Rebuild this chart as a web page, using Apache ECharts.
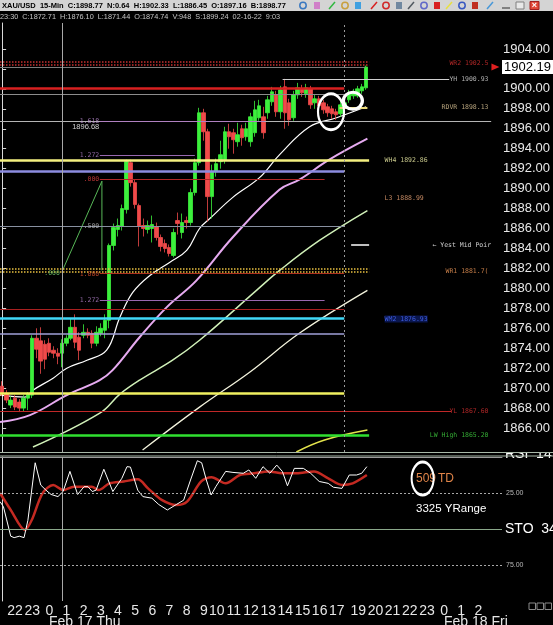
<!DOCTYPE html>
<html><head><meta charset="utf-8">
<script src="https://cdn.jsdelivr.net/npm/echarts@6/dist/echarts.min.js"></script>
<style>html,body{margin:0;padding:0;background:#000;overflow:hidden}#c{width:553px;height:625px}</style>
</head><body><div id="c"></div><script>
// ---------- data ----------
const opens  = [1870.2,1869.5,1868.3,1869.0,1868.6,1868.0,1869.0,1869.3,1875.0,1874.74,1874.4,1874.5,1873.8,1873.5,1873.5,1874.5,1875.0,1876.1,1875.1,1875.3,1875.6,1875.5,1874.5,1875.5,1875.8,1876.8,1884.3,1885.9,1886.2,1887.9,1892.6,1890.6,1888.3,1886.3,1885.9,1886.0,1886.2,1885.1,1884.5,1884.1,1883.3,1886.8,1885.6,1886.8,1886.6,1889.6,1892.6,1897.6,1895.7,1889.2,1891.7,1892.7,1892.9,1895.7,1895.6,1894.7,1896.0,1895.2,1894.7,1895.6,1897.1,1897.2,1897.6,1898.7,1899.4,1897.7,1900.2,1898.6,1897.1,1899.4,1900.0,1899.5,1900.0,1898.6,1899.0,1898.6,1898.2,1898.0,1897.7,1897.5,1898.4,1898.9,1899.3,1899.3,1899.8,1900.1];
const closes = [1869.5,1868.8,1868.8,1868.1,1868.0,1869.0,1869.4,1875.0,1873.9,1872.71,1872.9,1873.6,1873.5,1873.2,1874.5,1875.0,1876.1,1874.6,1873.8,1875.6,1875.3,1874.5,1875.6,1876.0,1876.8,1884.3,1886.1,1886.3,1888.0,1892.7,1890.6,1888.4,1886.2,1886.0,1886.3,1886.4,1885.1,1884.2,1884.0,1883.5,1885.6,1886.5,1886.6,1886.6,1889.6,1892.6,1897.6,1895.7,1889.2,1891.7,1892.5,1893.4,1895.7,1895.2,1894.9,1895.4,1895.1,1896.0,1897.2,1897.9,1898.3,1895.6,1898.9,1899.7,1897.7,1899.9,1897.6,1896.9,1899.4,1900.1,1899.6,1900.1,1898.4,1899.0,1898.3,1897.9,1897.6,1897.5,1897.4,1898.4,1898.6,1899.6,1899.7,1900.0,1900.2,1902.19];
const lows   = [1869.2,1868.5,1868.0,1867.8,1867.6,1867.7,1867.8,1869.0,1873.0,1871.44,1871.9,1873.2,1873.0,1872.4,1872.1,1874.2,1874.8,1874.0,1872.8,1875.0,1875.0,1874.0,1874.2,1875.2,1875.0,1876.0,1883.8,1885.2,1885.8,1887.5,1890.2,1888.0,1884.2,1885.2,1885.5,1884.6,1884.8,1883.7,1883.6,1883.2,1883.1,1885.4,1885.0,1886.0,1886.3,1889.3,1892.3,1894.8,1886.7,1887.0,1891.2,1892.0,1892.5,1894.0,1893.5,1894.2,1894.3,1894.8,1894.2,1895.2,1896.8,1895.0,1897.0,1898.3,1897.2,1897.0,1896.0,1896.3,1896.8,1899.0,1899.2,1899.1,1898.0,1898.0,1897.9,1897.5,1897.2,1897.0,1896.9,1897.2,1898.2,1898.6,1899.0,1899.1,1899.5,1899.9];
const highs  = [1870.7,1869.8,1869.2,1869.3,1868.9,1869.3,1869.6,1875.3,1876.0,1876.10,1874.8,1875.0,1874.2,1874.0,1874.9,1875.3,1877.0,1877.4,1875.6,1876.4,1876.0,1875.8,1876.2,1876.5,1877.4,1884.5,1886.5,1887.0,1888.4,1892.9,1892.9,1890.9,1888.5,1887.0,1886.8,1887.3,1886.6,1885.4,1884.9,1884.4,1886.0,1887.6,1887.5,1887.2,1890.0,1893.0,1898.1,1898.0,1896.0,1892.4,1893.0,1894.8,1896.2,1896.5,1896.0,1896.6,1896.4,1896.6,1897.6,1898.8,1898.9,1898.2,1899.3,1900.2,1899.8,1900.3,1901.0,1899.0,1899.8,1900.6,1900.4,1900.5,1900.3,1899.4,1899.3,1898.9,1898.5,1898.3,1898.0,1898.8,1898.9,1899.9,1900.0,1900.3,1900.5,1902.33];

const slotCount = 117;
const hourIdx    = [3,7,11,15,19,23,27,31,35,39,43,47,50,54,58,62,66,70,74,78,83,87,91,95,99,103,107,111];
const hourLabels = ['22','23','0','1','2','3','4','5','6','7','8','9','10','11','12','13','14','15','16','17','19','20','21','22','23','0','1','2'];
const priceTicks = [1866,1868,1870,1872,1874,1876,1878,1880,1882,1884,1886,1888,1890,1892,1894,1896,1898,1900,1902,1904];
const stoTicks = [25,75];

const ma1 = [[-0.5,1869.3],[5.3,1869.1],[7.2,1869.8],[11.9,1871.0],[15.1,1872.0],[19.8,1872.8],[24.4,1873.8],[27.5,1877.1],[30.5,1879.6],[34.5,1881.3],[39.1,1882.6],[43.1,1883.8],[46.1,1886.0],[48.5,1887.0],[53.8,1889.1],[60.1,1891.1],[64.8,1893.4],[71.8,1896.2],[78.1,1897.1],[85,1898.2]];
const ma2 = [[-0.5,1866.6],[6.5,1867.3],[15.1,1869.3],[22.8,1870.8],[25.8,1871.8],[32.1,1875.1],[38.4,1878.1],[45.4,1880.8],[53.8,1885.1],[64.8,1889.9],[69.4,1890.9],[76.4,1892.9],[85.3,1895.0]];
const ma3 = [[7.2,1864.1],[22.8,1867.5],[27.5,1869.4],[32.1,1870.8],[39.8,1872.8],[46.1,1874.8],[59.4,1879.8],[64.8,1881.8],[74.1,1884.8],[85.3,1887.8]];
const ma4 = [[32.8,1863.8],[46.1,1868.1],[57.8,1871.6],[69.4,1875.5],[85.3,1879.8]];
const ma5 = [[68.7,1863.6],[75.3,1864.8],[85.3,1865.8]];

const stoK = [[-0.5,31],[0.3,34.5],[2.0,55],[2.8,56],[4.0,55],[5.1,56],[6.0,44],[7.7,4],[9.0,19.5],[10.2,23],[11.4,26],[13.0,27.5],[14.2,24],[15.8,10],[17.6,26],[19.1,20.6],[20.0,20.6],[21.0,24],[21.9,23],[23.7,8.5],[25.8,24],[27.9,14.8],[29.1,6.7],[29.9,7],[31.6,23],[32.8,27.5],[34.9,28.6],[36.5,33],[38.5,36.8],[40.6,33],[42.3,30],[43.9,16],[45.5,2.6],[46.5,4],[47.6,16],[48.7,26.4],[49.8,20.6],[52.1,10],[53.8,10.7],[56.2,11.3],[57.5,9],[59.1,14.8],[60.8,6.7],[62.4,11.3],[64.0,5.6],[65.3,10],[66.5,20],[68.1,7.9],[70.2,7.9],[71.9,11.3],[73.9,17],[76.0,18.3],[77.2,21],[79.2,21.8],[80.9,12.5],[82.6,12.5],[83.8,11.3],[85.0,6.7]];
const stoD = [[-0.5,25],[2.0,36.8],[5.3,50.7],[6.9,43.8],[9.4,25.2],[11.9,19.4],[14.3,23],[16.7,20.6],[20.9,20.6],[22.5,23],[25.0,18.3],[28.3,17],[31.6,15.5],[34.0,21.8],[37.3,30],[40.6,33.4],[43.1,31],[46.4,17],[48.8,14],[52.1,18.3],[55.4,12.5],[58.7,11.3],[62.0,10],[65.3,11.3],[68.6,11.3],[72.7,10],[76.0,14.8],[79.2,19.4],[81.7,18.3],[85.0,12.5]];

const levelNames  = ['WR2a','WR2b','G1902','YH','R1900','G1899','RDVR','G1896','F1618','F1272a','WH4','L1891','F000','F500','YMid','WR1a','WR1b','F1000','F1272b','R1878','WM2','L1875','Y1869','YL','LW'];
const levelPrices = [1902.75,1902.4,1902.15,1900.93,1900.1,1899.45,1898.13,1896.75,1896.75,1893.35,1892.86,1891.7,1890.9,1886.2,1884.35,1881.95,1881.65,1881.5,1878.85,1877.95,1876.98,1875.45,1869.5,1867.7,1865.25];
const levelFrom   = [-0.5,-0.5,-0.5,65.5,-0.5,-0.5,78.8,-0.5,22.8,22.8,-0.5,-0.5,22.8,-0.5,81.5,-0.5,-0.5,22.8,22.8,-0.5,-0.5,-0.5,-0.5,-0.5,-0.5];
const levelTo     = [85.7,85.7,84.8,104.4,79.9,79.9,85.3,114.2,61.3,45,85.7,79.9,75.3,79.9,85.7,85.7,85.7,79.9,75.3,79.9,79.9,79.9,79.9,104.9,85.7];

const levelTexts  = ['WR2 1902.5','YH 1900.93','RDVR 1898.13','WH4 1892.86','L3 1888.99','\u2190 Yest Mid Poir','WR1 1881.7(','WM2 1876.93','YL 1867.60','LW High 1865.20'];
const levelTextPrices = [1902.55,1900.93,1898.13,1892.86,1888.99,1884.35,1881.75,1876.93,1867.7,1865.25];
const levelTextIdx = [113.7,113.7,113.7,89.2,89.2,114.3,113.7,89.2,113.7,113.7];

const fibTexts  = ['1.618','1896.68','1.272','.000','.500','.000','1.000','1.272'];
const fibPrices = [1896.75,1896.15,1893.35,1890.9,1886.2,1881.5,1881.4,1878.85];
const fibIdx    = [22.8,22.8,22.8,22.8,22.8,13.6,22.8,22.8];
const fibDraw   = [[14.1,1881.8],[23.3,1890.75],[23.3,1881.8]];

const vLines = [14.1, 79.8];
const circleMarks = [[76.8,1897.7],[81.9,1898.8]];
const stoMark = [98.0,15.0];

// ---------- styles ----------
const levelStyle = {
  WR2a:{color:'#c83030',width:1.5,type:'dotted'}, WR2b:{color:'#c83030',width:1.5,type:'dotted'},
  G1902:{color:'#7c7c7c',width:1}, YH:{color:'#d0d0d0',width:1}, R1900:{color:'#d82020',width:2.5},
  G1899:{color:'#8c8c8c',width:1}, RDVR:{color:'#e8d878',width:2}, G1896:{color:'#b4b4b4',width:1},
  F1618:{color:'#b080c0',width:1}, F1272a:{color:'#9868b0',width:1}, WH4:{color:'#f4f080',width:2.5},
  L1891:{color:'#8c8ce0',width:2.5}, F000:{color:'#b02828',width:1}, F500:{color:'#8890a0',width:1},
  YMid:{color:'#ffffff',width:1.5}, WR1a:{color:'#e8c040',width:1.5,type:'dotted'}, WR1b:{color:'#e8c040',width:1.5,type:'dotted'},
  F1000:{color:'#b03020',width:1}, F1272b:{color:'#9868b0',width:1}, R1878:{color:'#a82020',width:1},
  WM2:{color:'#40d8f8',width:2.5}, L1875:{color:'#a0a0d8',width:1.5}, Y1869:{color:'#f0f060',width:2.5},
  YL:{color:'#c02828',width:1}, LW:{color:'#30e030',width:2.5}
};
const levelTextColors = ['#d83030','#d8d8d8','#e0c898','#f0f0a8','#f0a878','#ffffff','#f09858','#4a6cff','#d83030','#40d040'];
const levelTextSide   = ['left','left','left','right','right','left','left','right','left','left'];
const fibColors = ['#c090d8','#ffffff','#b080c8','#e04040','#c0c0c0','#70d070','#e05030','#b080c8'];
const MONO = '"DejaVu Sans Mono", monospace';
const SANS = '"Liberation Sans", Arial, sans-serif';

const cats = Array.from({length: slotCount}, (_, i) => String(i));
const lastPrice = closes[closes.length - 1];
const candleData = opens.map((o, i) => [o, closes[i], lows[i], highs[i]]);

const chart = echarts.init(document.getElementById('c'), null, {renderer: 'canvas'});

const levelMark = levelNames.map((n, i) => [
  {coord: [levelFrom[i], levelPrices[i]], lineStyle: Object.assign({type: 'solid'}, levelStyle[n])},
  {coord: [levelTo[i], levelPrices[i]]}
]);
levelMark.push({xAxis: vLines[0], lineStyle: {color: '#a8a8a8', width: 1, type: 'solid'}});
levelMark.push({xAxis: vLines[1], lineStyle: {color: '#9a9a9a', width: 1, type: [2, 3]}});

const labelData = levelTexts.map((t, i) => ({
  value: [levelTextIdx[i], levelTextPrices[i]],
  label: {show: true, formatter: t, position: levelTextSide[i], distance: 0, color: levelTextColors[i],
    fontSize: 6.5, fontFamily: MONO, backgroundColor: i === 7 ? '#0c1c60' : 'transparent'}
})).concat(fibTexts.map((t, i) => ({
  value: [fibIdx[i], fibPrices[i]],
  label: {show: true, formatter: t, position: 'left', distance: 0, color: fibColors[i],
    fontSize: i === 1 ? 7.5 : 6.5, fontFamily: i === 1 ? SANS : MONO}
})));

const maSeries = (data, color, width) => ({
  type: 'line', xAxisIndex: 1, yAxisIndex: 0, data: data, showSymbol: false, smooth: 0.4,
  lineStyle: {color: color, width: width}, silent: true, z: 3
});

const option = {
  backgroundColor: '#000',
  animation: false,
  grid: [
    {left: 0, top: 23, width: 502, height: 429},
    {left: 0, top: 457, width: 502, height: 144}
  ],
  xAxis: [
    {type: 'category', gridIndex: 0, data: cats, show: false, boundaryGap: true},
    {type: 'value', gridIndex: 0, min: -0.5, max: slotCount - 0.5, show: false},
    {type: 'category', gridIndex: 1, data: cats, boundaryGap: true,
      axisLine: {show: true, lineStyle: {color: '#9a9a9a'}}, axisTick: {show: false},
      axisLabel: {interval: (i) => hourIdx.indexOf(i) >= 0,
        formatter: (v, i) => { const k = hourIdx.indexOf(i); return k >= 0 ? hourLabels[k] : ''; },
        color: '#e6e6e6', fontSize: 14, margin: 3, fontFamily: SANS},
      splitLine: {show: false}},
    {type: 'value', gridIndex: 1, min: -0.5, max: slotCount - 0.5, show: false}
  ],
  yAxis: [
    {type: 'value', gridIndex: 0, position: 'right', min: 1863.6, max: 1906.6, scale: true,
      splitLine: {show: false},
      axisLine: {show: true, lineStyle: {color: '#d8d8d8'}},
      axisTick: {show: true, length: 4, customValues: priceTicks, lineStyle: {color: '#d8d8d8'}},
      axisLabel: {customValues: priceTicks, formatter: (v) => v.toFixed(2), color: '#e8e8e8', fontSize: 13, margin: 2, fontFamily: SANS}},
    {type: 'value', gridIndex: 1, position: 'right', min: 0, max: 100, inverse: true,
      splitLine: {show: false},
      axisLine: {show: true, lineStyle: {color: '#d8d8d8'}},
      axisTick: {show: false},
      axisLabel: {customValues: stoTicks, formatter: (v) => v.toFixed(2), color: '#b8b8b8', fontSize: 7, margin: 4, fontFamily: SANS}}
  ],
  series: [
    {type: 'candlestick', xAxisIndex: 0, yAxisIndex: 0, data: candleData, barWidth: 4, z: 4,
      itemStyle: {color: '#3cf03c', color0: '#f04a4a', borderColor: '#3cf03c', borderColor0: '#f04a4a', borderWidth: 0.8},
      markLine: {silent: true, symbol: ['none', 'none'], animation: false,
        lineStyle: {color: 'rgba(0,0,0,0)', width: 0},
        label: {show: true, position: 'end', distance: 1, formatter: () => lastPrice.toFixed(2),
          backgroundColor: '#ffffff', color: '#000', fontSize: 13, fontFamily: SANS, padding: [1, 3, 0, 2]},
        data: [{yAxis: lastPrice}]}},
    {type: 'line', xAxisIndex: 1, yAxisIndex: 0, data: [], silent: true, z: 2,
      markLine: {silent: true, symbol: ['none', 'none'], animation: false, label: {show: false}, data: levelMark},
      markPoint: {silent: true, animation: false, label: {show: false},
        data: [{coord: [115.2, lastPrice], symbol: 'triangle', symbolRotate: -90, symbolSize: [7, 8], itemStyle: {color: '#e02020'}}]}},
    maSeries(ma5, '#e4e44c', 1.5),
    maSeries(ma4, '#f2f2dc', 1.3),
    maSeries(ma3, '#d0f0b8', 1.5),
    maSeries(ma2, '#e6aaf0', 2),
    maSeries(ma1, '#ffffff', 1.2),
    {type: 'line', xAxisIndex: 1, yAxisIndex: 0, data: fibDraw, showSymbol: false, silent: true,
      lineStyle: {color: '#58b858', width: 1}, z: 3},
    {type: 'scatter', xAxisIndex: 1, yAxisIndex: 0, data: labelData, symbolSize: 1, silent: true,
      itemStyle: {color: 'rgba(0,0,0,0)'}, z: 6},
    {type: 'line', xAxisIndex: 3, yAxisIndex: 1, data: stoD, showSymbol: false, smooth: 0.3, silent: true,
      lineStyle: {color: '#c42a22', width: 2.5}, z: 3},
    {type: 'line', xAxisIndex: 3, yAxisIndex: 1, data: stoK, showSymbol: false, silent: true,
      lineStyle: {color: '#ffffff', width: 1}, z: 4,
      markLine: {silent: true, symbol: ['none', 'none'], animation: false, label: {show: false},
        data: [
          {yAxis: 25, lineStyle: {color: '#a8a8a8', width: 1, type: [2, 2]}},
          {yAxis: 75, lineStyle: {color: '#a8a8a8', width: 1, type: [2, 2]}},
          {yAxis: 50, lineStyle: {color: '#8aa88a', width: 1, type: 'solid'}},
          {xAxis: vLines[0], lineStyle: {color: '#a8a8a8', width: 1, type: 'solid'}}
        ]}}
  ]
};
chart.setOption(option);

// ---------- frame / annotations ----------
const LV_SERIES = 1, STO_SERIES = 10;
const g = [];
// header
g.push({type: 'rect', shape: {x: 0, y: 0, width: 553, height: 11}, style: {fill: '#d4d4d4'}, z: 100});
g.push({type: 'text', x: 2, y: 1.5, style: {text: 'XAU/USD  15-Min  C:1898.77  N:0.64  H:1902.33  L:1886.45  O:1897.16  B:1898.77',
  fill: '#000', font: 'bold 7.5px ' + SANS, textVerticalAlign: 'top'}, z: 101});
g.push({type: 'text', x: 0, y: 13.5, style: {text: '23:30  C:1872.71  H:1876.10  L:1871.44  O:1874.74  V:948  S:1899.24  02-16-22  9:03',
  fill: '#c4c4c4', font: '7.3px ' + SANS, textVerticalAlign: 'top'}, z: 101});
// toolbar icons
const icons = [[303,'#3a78c0'],[317,'#d080c8'],[332,'#30b840'],[345,'#c8a040'],[358,'#40a0e0'],[374,'#d82020'],[386,'#d02828'],[399,'#7088a0'],[411,'#505860'],[424,'#6068c8'],[437,'#d82020'],[449,'#e8e040'],[462,'#3858c0'],[475,'#c03020'],[490,'#4898d8']];
icons.forEach((ic, k) => {
  if (k % 3 === 0) g.push({type: 'circle', shape: {cx: ic[0], cy: 5.5, r: 3.2}, style: {fill: 'none', stroke: ic[1], lineWidth: 1.5}, z: 101});
  else if (k % 3 === 1) g.push({type: 'rect', shape: {x: ic[0] - 3, y: 2, width: 6, height: 7}, style: {fill: ic[1]}, z: 101});
  else g.push({type: 'line', shape: {x1: ic[0] - 3, y1: 9, x2: ic[0] + 3, y2: 2}, style: {stroke: ic[1], lineWidth: 1.5}, z: 101});
});
g.push({type: 'line', shape: {x1: 502, y1: 8, x2: 510, y2: 8}, style: {stroke: '#808080', lineWidth: 2}, z: 101});
g.push({type: 'rect', shape: {x: 516, y: 2, width: 8, height: 7}, style: {fill: '#e8e8e8', stroke: '#808080', lineWidth: 1}, z: 101});
g.push({type: 'rect', shape: {x: 530, y: 1.5, width: 9, height: 8}, style: {fill: '#e04838', stroke: '#a02020', lineWidth: 1}, z: 101});
g.push({type: 'text', x: 534.5, y: 5.5, style: {text: '\u00d7', fill: '#fff', font: 'bold 9px ' + SANS, textAlign: 'center', textVerticalAlign: 'middle'}, z: 102});
// RSI label (mostly hidden) + separators
g.push({type: 'text', x: 505, y: 447, style: {text: 'RSI  14.4', fill: '#ffffff', font: '14px ' + SANS, textVerticalAlign: 'top'}, z: 100});
g.push({type: 'rect', shape: {x: 503, y: 438, width: 50, height: 15}, style: {fill: '#000'}, z: 101});
g.push({type: 'line', shape: {x1: 0, y1: 452.5, x2: 553, y2: 452.5}, style: {stroke: '#a8b8a8', lineWidth: 1}, z: 102});
g.push({type: 'line', shape: {x1: 0, y1: 456, x2: 553, y2: 456}, style: {stroke: '#a8b8a8', lineWidth: 1}, z: 102});
// indicator texts
g.push({type: 'text', x: 505, y: 529, style: {text: 'STO  34.5', fill: '#ffffff', font: '14px ' + SANS, textVerticalAlign: 'middle'}, z: 100});
g.push({type: 'text', x: 416, y: 479, style: {text: '509', fill: '#e08448', font: '12px ' + SANS, textVerticalAlign: 'middle'}, z: 100});
g.push({type: 'text', x: 438, y: 479, style: {text: 'TD', fill: '#e08448', font: '12px ' + SANS, textVerticalAlign: 'middle'}, z: 100});
g.push({type: 'text', x: 416, y: 509, style: {text: '3325 YRange', fill: '#ffffff', font: '11.5px ' + SANS, textVerticalAlign: 'middle'}, z: 100});
// date captions
g.push({type: 'text', x: 49, y: 615, style: {text: 'Feb 17 Thu', fill: '#e6e6e6', font: '14px ' + SANS, textVerticalAlign: 'top'}, z: 100});
g.push({type: 'text', x: 444, y: 615, style: {text: 'Feb 18 Fri', fill: '#e6e6e6', font: '14px ' + SANS, textVerticalAlign: 'top'}, z: 100});
[529, 537, 545].forEach(x => g.push({type: 'rect', shape: {x: x, y: 603, width: 6.5, height: 6.5}, style: {fill: 'none', stroke: '#8a8a8a', lineWidth: 1}, z: 100}));
// annotation ellipses located from data coordinates
const e1 = chart.convertToPixel({seriesIndex: LV_SERIES}, circleMarks[0]);
const e2 = chart.convertToPixel({seriesIndex: LV_SERIES}, circleMarks[1]);
const e3 = chart.convertToPixel({seriesIndex: STO_SERIES}, stoMark);
const ell = (p, rx, ry) => ({type: 'circle', x: p[0], y: p[1], scaleX: rx / ry, shape: {cx: 0, cy: 0, r: ry},
  style: {fill: 'none', stroke: '#ffffff', lineWidth: 3, strokeNoScale: true}, z: 103});
g.push(ell(e1, 13, 18));
g.push(ell(e2, 9.5, 8.5));
g.push(ell(e3, 11, 16.5));
chart.setOption({graphic: g});
</script></body></html>
